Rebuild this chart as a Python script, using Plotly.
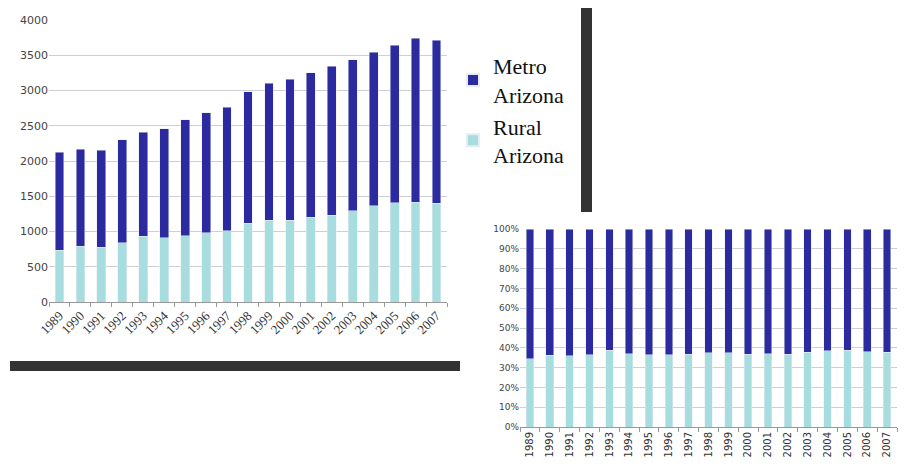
import plotly.graph_objects as go

years = ["1989", "1990", "1991", "1992", "1993", "1994", "1995", "1996", "1997", "1998",
         "1999", "2000", "2001", "2002", "2003", "2004", "2005", "2006", "2007"]
rural = [731, 788, 774, 841, 933, 909, 942, 981, 1014, 1120,
         1163, 1163, 1202, 1231, 1293, 1365, 1409, 1418, 1399]
metro = [1391, 1382, 1382, 1461, 1478, 1545, 1644, 1700, 1752, 1863,
         1943, 1995, 2050, 2111, 2140, 2181, 2231, 2322, 2312]
left_ticks = [0, 500, 1000, 1500, 2000, 2500, 3000, 3500, 4000]
pct_ticks = [0, 10, 20, 30, 40, 50, 60, 70, 80, 90, 100]

totals = [r + m for r, m in zip(rural, metro)]
rural_pct = [100 * r / t for r, t in zip(rural, totals)]
metro_pct = [100 * m / t for m, t in zip(metro, totals)]

METRO = "#2b2b9f"
RURAL = "#a8dde0"
W, H = 909, 466
OFF = 8  # page body margin

fig = go.Figure()
fig.add_trace(go.Bar(x=years, y=rural, name="Rural<br>Arizona", marker_color=RURAL,
                     width=0.42, xaxis="x", yaxis="y", legendrank=2, legendgroup="r"))
fig.add_trace(go.Bar(x=years, y=metro, name="Metro<br>Arizona", marker_color=METRO,
                     width=0.42, xaxis="x", yaxis="y", legendrank=1, legendgroup="m"))
fig.add_trace(go.Bar(x=years, y=rural_pct, marker_color=RURAL, width=0.38,
                     xaxis="x2", yaxis="y2", showlegend=False))
fig.add_trace(go.Bar(x=years, y=metro_pct, marker_color=METRO, width=0.38,
                     xaxis="x2", yaxis="y2", showlegend=False))

def px_x(p):
    return (p - OFF) / W

def px_y(p):
    return 1 - (p - OFF) / H

grid = "#cfcfcf"
fig.update_layout(
    width=W, height=H,
    margin=dict(l=0, r=0, t=0, b=0, autoexpand=False),
    paper_bgcolor="white", plot_bgcolor="white",
    barmode="stack",
    showlegend=True,
    legend=dict(x=px_x(453), y=px_y(45), xanchor="left", yanchor="top",
                font=dict(family="Liberation Serif", size=22, color="#111"),
                traceorder="grouped", itemsizing="constant", tracegroupgap=0,
                bgcolor="rgba(0,0,0,0)"),
    xaxis=dict(domain=[px_x(49), px_x(447)], anchor="y", type="category", automargin=False,
               tickangle=-45, tickfont=dict(family="Liberation Serif", size=13, color="#333"),
               showline=True, linecolor="#999", ticks="outside", tickson="boundaries",
               ticklen=4, tickcolor="#999", showgrid=False),
    yaxis=dict(domain=[px_y(302), px_y(20)], anchor="x", range=[0, 4000], automargin=False,
               tickvals=left_ticks, tickfont=dict(family="DejaVu Sans", size=11, color="#444"),
               showgrid=True, gridcolor=grid, zeroline=False, ticks="", showline=False),
    xaxis2=dict(domain=[px_x(520), px_x(897)], anchor="y2", type="category", automargin=False,
                tickangle=-90, tickfont=dict(family="DejaVu Sans", size=10, color="#333"),
                showline=True, linecolor="#999", ticks="outside", tickson="boundaries",
                ticklen=4, tickcolor="#999", showgrid=False),
    yaxis2=dict(domain=[px_y(427), px_y(229)], anchor="x2", range=[0, 100], automargin=False,
                tickvals=pct_ticks, ticktext=[f"{v}%" for v in pct_ticks],
                tickfont=dict(family="DejaVu Sans", size=9, color="#444"),
                showgrid=True, gridcolor=grid, zeroline=False, ticks="", showline=False),
    shapes=[
        dict(type="rect", xref="paper", yref="paper",
             x0=px_x(10), x1=px_x(460), y0=px_y(371), y1=px_y(361),
             fillcolor="#333333", line=dict(width=0)),
        dict(type="rect", xref="paper", yref="paper",
             x0=px_x(581), x1=px_x(592), y0=px_y(212), y1=px_y(6),
             fillcolor="#333333", line=dict(width=0)),
    ],
)

fig.write_html("out.html")
